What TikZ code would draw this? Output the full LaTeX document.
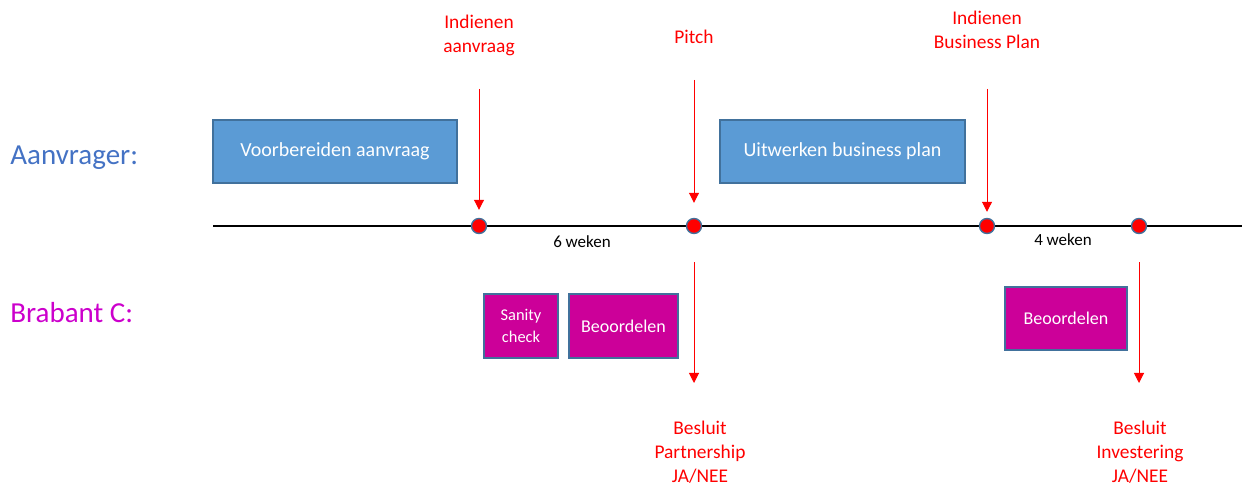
\documentclass[tikz,border=0pt]{standalone}
\usepackage{fontspec}
\setmainfont{Carlito}
\usetikzlibrary{arrows.meta,shapes,arrows}
\definecolor{taskblue}{HTML}{5B9BD5}
\definecolor{taskline}{HTML}{41719C}
\definecolor{taskpink}{HTML}{CC0099}
\definecolor{lanemagenta}{HTML}{CC00CC}
\definecolor{laneblue}{HTML}{4472C4}

\begin{document}
\begin{tikzpicture}[x=0.5pt,y=-0.5pt]
      \useasboundingbox (0,0) rectangle (1242,485);
      % lanes
      \begin{scope}[every node/.style={anchor=west,inner sep=0pt,font=\fontsize{14.5}{17}\selectfont}]
        \node[text=laneblue]    (Aanvrager) at (10,158) {Aanvrager:};
        \node[text=lanemagenta] (Brabant)   at (10,313) {Brabant C:};
      \end{scope}
      % timeline
      \coordinate (T0) at (213,226);
      \coordinate (T1) at (1242,226);
      \draw[line width=0.8pt] (T0) -- (T1);
      \begin{scope}[every node/.style={circle,draw=taskline,fill=red,inner sep=0pt,minimum size=7.5pt,line width=0.7pt}]
        \node (M1) at (479,226)  {};
        \node (M2) at (694,226)  {};
        \node (M3) at (987,226)  {};
        \node (M4) at (1139,226) {};
      \end{scope}
      \node[font=\fontsize{8.5}{10}\selectfont] (W6) at (582,242) {6 weken};
      \node[font=\fontsize{8.5}{10}\selectfont] (W4) at (1063,240) {4 weken};
      % tasks
      \begin{scope}[every node/.style={rectangle,draw=taskline,line width=0.6pt,text=white,align=center,inner sep=0pt}]
        \node[fill=taskblue,minimum width=122pt,minimum height=31.5pt,font=\fontsize{10}{12}\selectfont] (Voorb) at (335,151.5) {Voorbereiden aanvraag};
        \node[fill=taskblue,minimum width=122.5pt,minimum height=31.5pt,font=\fontsize{10}{12}\selectfont] (Uitw) at (842.5,151.5) {Uitwerken business plan};
        \node[fill=taskpink,minimum width=37pt,minimum height=32pt,font=\fontsize{8.2}{11}\selectfont] (Sanity) at (521,326) {Sanity\\check};
        \node[fill=taskpink,minimum width=54.5pt,minimum height=32pt,font=\fontsize{9}{11}\selectfont] (BeoordA) at (623.5,326) {Beoordelen};
        \node[fill=taskpink,minimum width=61pt,minimum height=31.5pt,font=\fontsize{9}{11}\selectfont] (BeoordB) at (1066,318.5) {Beoordelen};
      \end{scope}
      % events
      \begin{scope}[every node/.style={text=red,align=center,font=\fontsize{9.7}{12}\selectfont}]
        \node (Aanvraag) at (479,35)  {Indienen\\aanvraag};
        \node (Pitch)    at (694,37)  {Pitch};
        \node (Plan)     at (987,30)  {Indienen\\Business Plan};
        \node (BesA)     at (700,452) {Besluit\\Partnership\\JA/NEE};
        \node (BesB)     at (1140,452) {Besluit\\Investering\\JA/NEE};
      \end{scope}
      \coordinate (A1) at (479,89);
      \coordinate (A2) at (694,80);
      \coordinate (A3) at (987,89);
      \coordinate (B1) at (694,383);
      \coordinate (B2) at (1139,383);
      \begin{scope}[>={Triangle[width=5pt,length=5pt]},every edge/.style={draw=red,line width=0.5pt}]
        \path (A1) edge[->,shorten >=4pt]  (M1);
        \path (A2) edge[->,shorten >=7.5pt] (M2);
        \path (A3) edge[->,shorten >=3pt]  (M3);
        \path (M2) edge[->,shorten <=14pt] (B1);
        \path (M4) edge[->,shorten <=14pt] (B2);
      \end{scope}
    \end{tikzpicture}
\end{document}
